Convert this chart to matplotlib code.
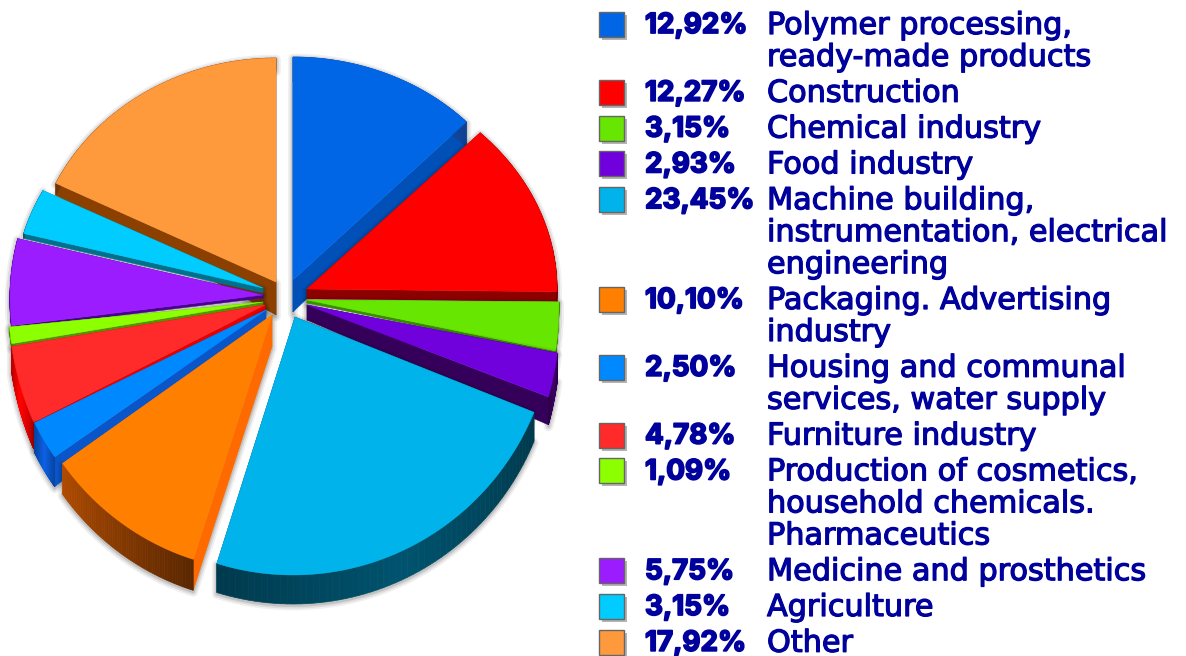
"""Exploded pseudo-3D pie with a hand-laid legend on the right. Writes out.png."""
import numpy as np
import matplotlib
matplotlib.use("Agg")
import matplotlib.pyplot as plt
import matplotlib.patheffects as pe
from matplotlib.patches import Polygon, Rectangle

values = [12.92, 12.27, 3.15, 2.93, 23.45, 10.10, 2.50, 4.78, 1.09, 5.75, 3.15, 17.92]
labels = [
    "Polymer processing,\nready-made products",
    "Construction",
    "Chemical industry",
    "Food industry",
    "Machine building,\ninstrumentation, electrical\nengineering",
    "Packaging. Advertising\nindustry",
    "Housing and communal\nservices, water supply",
    "Furniture industry",
    "Production of cosmetics,\nhousehold chemicals.\nPharmaceutics",
    "Medicine and prosthetics",
    "Agriculture",
    "Other",
]
top_colors = ["#0066E6", "#FF0000", "#66E600", "#7000DC", "#00B4EB", "#FF8000",
              "#0088FF", "#FF2A2A", "#8CFF00", "#9A1CFF", "#00CCFF", "#FF9A3C"]
wall_colors = ["#1450B4", "#8C0000", "#3C9600", "#35005A", "#004860", "#8C3C00",
               "#0A55C8", "#E60000", "#4F9600", "#4A0090", "#00708C", "#8C4010"]
edge_colors = ["#0050B8", "#8C0000", "#3C9600", "#35005A", "#004860", "#FF6A00",
               "#0A55C8", "#E60000", "#4F9600", "#4A0090", "#00708C", "#8C4000"]

# pieces are exploded by hand: apex, arc centre and radii of each, in pixels
apex_x = [293, 307, 307, 307, 295, 272, 266, 265, 263, 263, 263, 276]
apex_y = [280, 289, 300, 305, 317, 315, 310, 305, 302, 295, 288, 282]
arc_x = [293, 277, 409, 397, 293, 268, 248, 232, 230, 265, 303, 276]
arc_y = [265, 289, 299, 301, 311, 304, 304, 298, 299, 298, 290, 278]
rad_x = [239, 280, 150, 164, 261, 256, 241, 224, 222, 255, 288, 244]
rad_y = [208, 227, 250, 250, 264, 267, 256, 267, 246, 243, 231, 220]
rim_depth = [25, 10, 3, 28, 29, 31, 30, 27, 4, 3, 5, 12]
apex_depth = [32, 10, 3, 15, 29, 32, 10, 8, 4, 3, 5, 33]
draw_order = [0, 11, 1, 2, 10, 9, 3, 8, 7, 6, 5, 4]

TEXT_COLOR = "#00009C"


def slice_outline(i):
    cum = np.cumsum([0] + values) / sum(values) * 2 * np.pi
    t = np.linspace(cum[i], cum[i + 1], 60)
    return arc_x[i] + rad_x[i] * np.sin(t), arc_y[i] - rad_y[i] * np.cos(t)


def draw_slice(ax, i):
    x, y = slice_outline(i)
    d, da = rim_depth[i], apex_depth[i]
    ax0, ay0 = apex_x[i], apex_y[i]
    z = 2 + draw_order.index(i) * 3

    # soft shadow round the whole piece
    sx = np.r_[ax0, x, x[::-1], ax0]
    sy = np.r_[ay0, y, y[::-1] + d, ay0 + da]
    for lw, al in ((7, 0.06), (4.5, 0.08), (2, 0.12)):
        ax.add_patch(Polygon(np.c_[sx, sy + 1.5], closed=True, fc="none", joinstyle="round",
                             ec=(0, 0, 0, al), lw=lw, zorder=z - 1))

    for ex, ey in ((x[0], y[0]), (x[-1], y[-1])):
        quad = [(ax0, ay0), (ex, ey), (ex, ey + d), (ax0, ay0 + da)]
        ax.add_patch(Polygon(quad, color=edge_colors[i], lw=0.3, zorder=z))
    # outer wall gets darker along the arc
    n = len(x) - 1
    for j in range(n):
        k = 1.15 - 0.35 * abs(j / n - 0.5) * 2 if i != 5 else 1.25 - 0.6 * (1 - j / n)
        quad = [(x[j], y[j]), (x[j + 1], y[j + 1]), (x[j + 1], y[j + 1] + d), (x[j], y[j] + d)]
        c = np.clip(np.array(matplotlib.colors.to_rgb(wall_colors[i])) * k, 0, 1)
        ax.add_patch(Polygon(quad, color=c, lw=0.5, zorder=z))
    ax.add_patch(Polygon(np.c_[np.r_[ax0, x], np.r_[ay0, y]], color=top_colors[i], lw=0.3,
                         zorder=z + 1))


def main():
    fig = plt.figure(figsize=(11.86, 6.56), dpi=100)
    ax = fig.add_axes([0, 0, 1, 1])
    ax.set_xlim(0, 1186)
    ax.set_ylim(656, 0)
    ax.axis("off")

    for i in draw_order:
        draw_slice(ax, i)

    y = 24.0
    for i, (val, lab) in enumerate(zip(values, labels)):
        ax.add_patch(Rectangle((602, y - 9), 25, 25, color="#B4B4B4", lw=0, zorder=60))
        ax.add_patch(Rectangle((599, y - 12), 25, 25, facecolor=top_colors[i],
                               edgecolor="#666666", lw=1.0, zorder=61))
        ax.text(645, y - 1, f"{val:.2f}%".replace(".", ","), color=TEXT_COLOR, fontsize=20,
                family=["Inter", "DejaVu Sans"], weight="bold", va="center_baseline", zorder=62,
                path_effects=[pe.withStroke(linewidth=1.3, foreground=TEXT_COLOR)])
        lines = lab.split("\n")
        for k, line in enumerate(lines):
            ax.text(767, y - 1.5 + 32 * k, line, color=TEXT_COLOR, fontsize=21.8,
                    family=["DejaVu Sans"], va="center_baseline", zorder=62,
                    path_effects=[pe.withStroke(linewidth=0.9, foreground=TEXT_COLOR)])
        y += 32 * (len(lines) - 1) + 35.8

    fig.savefig("out.png", dpi=100)


if __name__ == "__main__":
    main()
